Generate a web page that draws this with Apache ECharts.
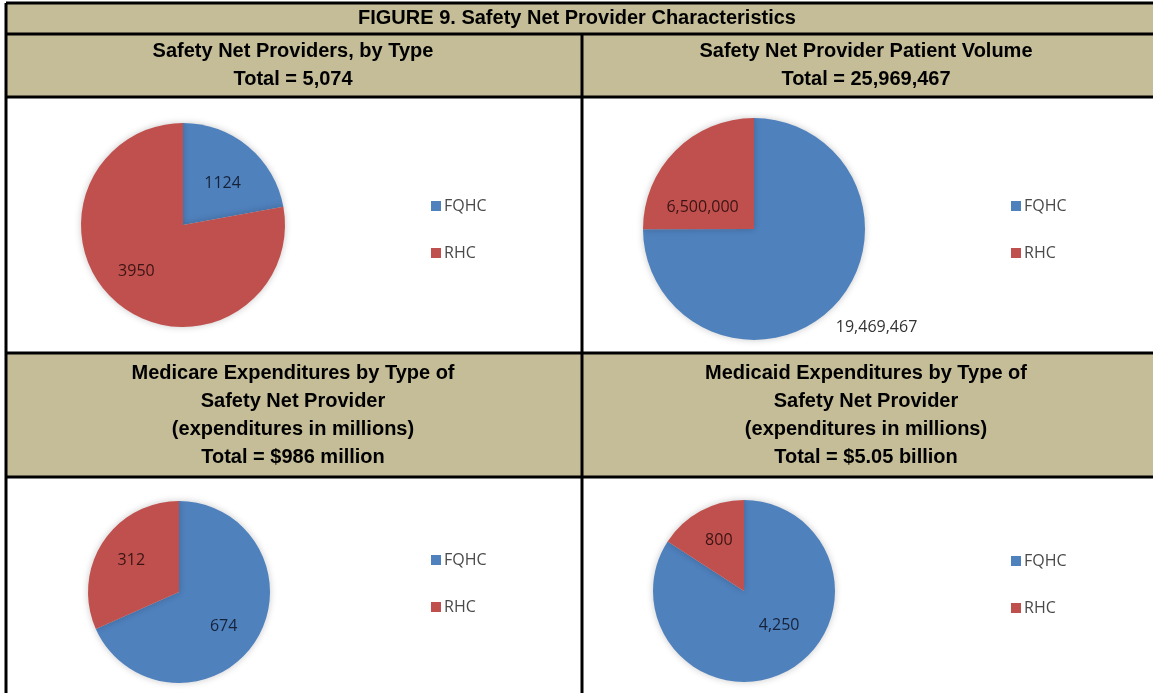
<!DOCTYPE html>
<html>
<head>
<meta charset="utf-8">
<title>Safety Net Provider Characteristics</title>
<script src="https://cdn.jsdelivr.net/npm/echarts@6/dist/echarts.min.js"></script>
<style>
  html, body { margin: 0; padding: 0; background: #fff; }
  #chart { width: 1153px; height: 693px; }
</style>
</head>
<body>
<div id="chart"></div>
<script>
// data
const figureTitle = 'FIGURE 9. Safety Net Provider Characteristics'
const panelTitles = [
  'Safety Net Providers, by Type\nTotal = 5,074',
  'Safety Net Provider Patient Volume\nTotal = 25,969,467',
  'Medicare Expenditures by Type of\nSafety Net Provider\n(expenditures in millions)\nTotal = $986 million',
  'Medicaid Expenditures by Type of\nSafety Net Provider\n(expenditures in millions)\nTotal = $5.05 billion'
]
const categories = ['FQHC', 'RHC']
const providerCounts = [1124, 3950]
const patientVolume = [19469467, 6500000]
const medicareSpend = [674, 312]
const medicaidSpend = [4250, 800]

const BLUE = '#4F81BD'
const RED = '#C0504D'
const TAN = '#C4BD97'
const HEAD_FONT = 'bold 20px "Liberation Sans", Arial, sans-serif'
const LABEL_FONT = '"Open Sans", sans-serif'

// table grid (px)
const L = 6, R = 1153, MID = 582
const rows = [3, 34, 97, 353, 477, 693]

const chart = echarts.init(document.getElementById('chart'), null, { renderer: 'canvas' })

function line(x1, y1, x2, y2) {
  return { type: 'line', z: 10, shape: { x1, y1, x2, y2 }, style: { stroke: '#000', lineWidth: 3 } }
}
function headText(x, y, text) {
  return {
    type: 'text', z: 11, x, y,
    style: {
      text, font: HEAD_FONT, fill: '#000', lineHeight: 28,
      align: 'center', verticalAlign: 'middle', textAlign: 'center', textVerticalAlign: 'middle'
    }
  }
}

const graphics = [
  // tan header bands
  { type: 'rect', z: 1, shape: { x: L, y: rows[0], width: R - L, height: rows[2] - rows[0] }, style: { fill: TAN } },
  { type: 'rect', z: 1, shape: { x: L, y: rows[3], width: R - L, height: rows[4] - rows[3] }, style: { fill: TAN } },
  // borders
  line(L, rows[0], R, rows[0]),
  line(L, rows[1], R, rows[1]),
  line(L, rows[2], R, rows[2]),
  line(L, rows[3], R, rows[3]),
  line(L, rows[4], R, rows[4]),
  line(L, rows[0], L, rows[5]),
  line(MID, rows[1], MID, rows[5]),
  // header texts
  headText(577, 18, figureTitle),
  headText(293, 65, panelTitles[0]),
  headText(866, 65, panelTitles[1]),
  headText(293, 415, panelTitles[2]),
  headText(866, 415, panelTitles[3])
]

const plain = p => String(p.value)
const comma = p => p.value.toLocaleString('en-US')
const labelColors = ['#16223a', '#3a1414']

// offsets nudge the labels to where Excel's best-fit put them
function pie(center, radius, values, fmt, offsets) {
  return {
    type: 'pie',
    center,
    radius,
    startAngle: 90,
    clockwise: true,
    silent: true,
    z: 5,
    data: categories.map((name, i) => ({
      name,
      value: values[i],
      label: { color: labelColors[i], offset: offsets[i], fontSize: 16 }
    })),
    label: {
      position: 'inside',
      formatter: fmt,
      fontFamily: LABEL_FONT,
      fontSize: 16
    },
    labelLine: { show: false },
    itemStyle: { shadowBlur: 7, shadowColor: 'rgba(0,0,0,0.22)' }
  }
}

function legend(left, top) {
  return {
    orient: 'vertical',
    left, top,
    data: categories,
    icon: 'rect',
    itemWidth: 10,
    itemHeight: 10,
    itemGap: 31,
    selectedMode: false,
    textStyle: { fontFamily: LABEL_FONT, fontSize: 16, color: '#4a4a4a', padding: [0, 0, 0, -2] }
  }
}

// the patient-volume pie puts the big slice label outside, low on the right
const volumeSeries = pie([754, 229], 111, patientVolume, comma, [[-6, 16], [-10, 20]])
volumeSeries.data[0].label.position = 'outside'
volumeSeries.data[0].label.color = '#333'
volumeSeries.data[0].labelLine = { show: false, length: 6, length2: 0 }

chart.setOption({
  animation: false,
  color: [BLUE, RED],
  graphic: graphics,
  legend: [
    legend(426, 193),
    legend(1006, 193),
    legend(426, 547),
    legend(1006, 548)
  ],
  series: [
    pie([183, 225], 102, providerCounts, plain, [[5, 0], [-12, 5]]),
    volumeSeries,
    pie([179, 592], 91, medicareSpend, plain, [[4, 8], [-7, -5]]),
    pie([744, 591], 91, medicaidSpend, comma, [[12, -8], [-2, -8]])
  ]
})
</script>
</body>
</html>
